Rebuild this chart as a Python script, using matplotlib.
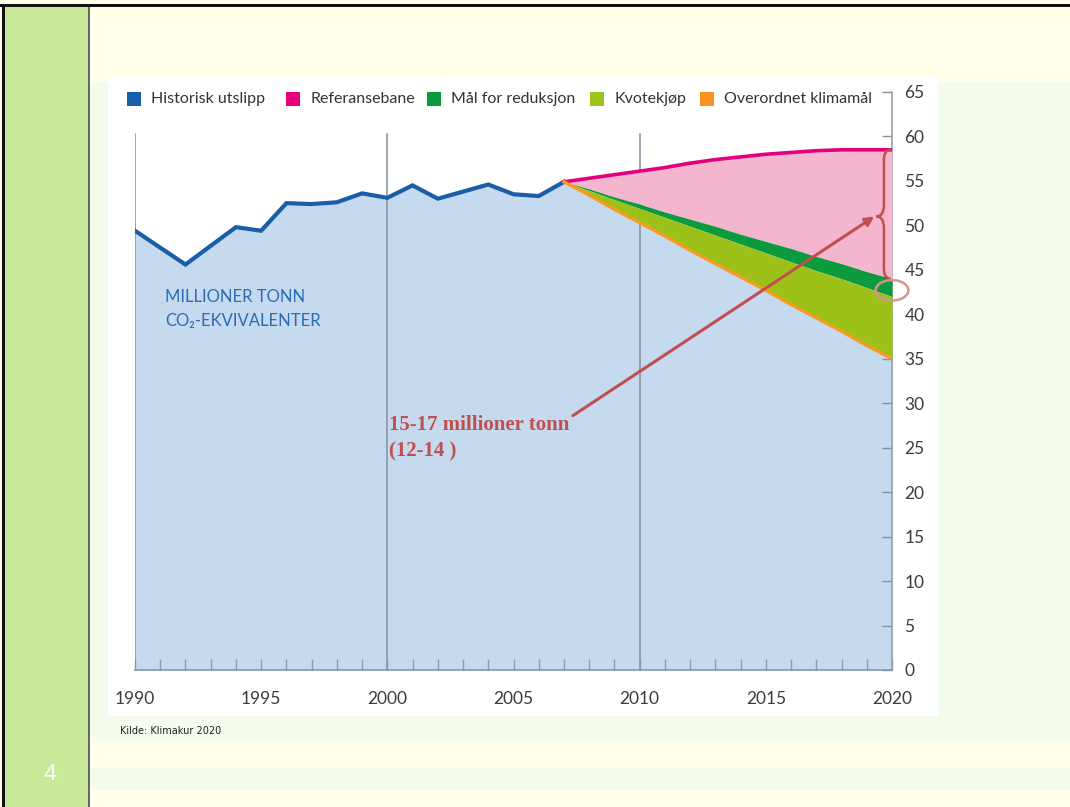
import matplotlib
matplotlib.use('Agg')
import matplotlib.pyplot as plt
from matplotlib.patches import Rectangle, Ellipse, PathPatch
from matplotlib.path import Path

# historical emissions, Mt CO2-equivalents
hist_years = list(range(1990, 2008))
hist_values = [49.4, 47.5, 45.6, 47.7, 49.8, 49.4, 52.5, 52.4, 52.6, 53.6,
               53.1, 54.5, 53.0, 53.8, 54.6, 53.5, 53.3, 54.9]

# projections 2007-2020
proj_years = list(range(2007, 2021))
reference = [54.9, 55.3, 55.7, 56.1, 56.5, 57.0, 57.4, 57.7, 58.0, 58.2,
             58.4, 58.5, 58.5, 58.5]
domestic_goal = [54.9, 54.1, 53.2, 52.4, 51.5, 50.7, 49.9, 49.0, 48.2, 47.4,
                 46.5, 45.7, 44.8, 44.0]
quota_top = [54.9, 53.9, 52.9, 51.9, 50.9, 49.9, 48.9, 47.9, 46.9, 45.9,
             44.9, 44.0, 43.0, 42.0]
overall_goal = [54.9, 53.4, 51.8, 50.3, 48.8, 47.2, 45.7, 44.2, 42.7, 41.1,
                39.6, 38.1, 36.5, 35.0]

legend_labels = ['Historisk utslipp', 'Referansebane', 'Mål for reduksjon',
                 'Kvotekjøp', 'Overordnet klimamål']
legend_colors = ['#1760aa', '#e5007d', '#079b3d', '#9dc41b', '#f7941d']
legend_x = [127, 286, 427, 590, 700]

W, H = 1070, 807
fig = plt.figure(figsize=(W / 100, H / 100), dpi=100)
fig.patch.set_facecolor('#ffffea')


def rect(x0, y0, x1, y1, color, z=0):
    # rectangle given in pixel coords (top-left origin)
    r = Rectangle((x0 / W, 1 - y1 / H), (x1 - x0) / W, (y1 - y0) / H,
                  transform=fig.transFigure, facecolor=color, edgecolor='none',
                  zorder=z)
    fig.add_artist(r)


# slide background
rect(90, 82, W, 743, '#f4fcee', -5)
rect(90, 768, W, 790, '#f4fcee', -5)
rect(5, 6, 88, H, '#c8e89a', -4)
rect(88, 6, 90, H, '#666666', -3)
rect(0, 4, W, 6.5, '#111111', -3)
rect(2, 4, 4.5, H, '#111111', -3)
rect(108, 76, 938, 716, 'white', -4)
fig.text(50 / W, 1 - 775 / H, '4', color='white', fontsize=16,
         ha='center', va='center', family='Open Sans')
fig.text(120 / W, 1 - 731 / H, 'Kilde: Klimakur 2020', color='#222222',
         fontsize=7, ha='left', va='center', family='DejaVu Sans')

# legend row
for x, lab, col in zip(legend_x, legend_labels, legend_colors):
    rect(x, 92, x + 14, 106, col, 2)
    fig.text((x + 24) / W, 1 - 99 / H, lab, color='#333333', fontsize=11.5,
             ha='left', va='center', family='Lato')

ax = fig.add_axes([135 / W, 1 - 670 / H, (892 - 135) / W, (670 - 92) / H])
ax.set_facecolor('none')
ax.set_xlim(1990, 2020)
ax.set_ylim(0, 65)

# one continuous fill under history + overall goal
base_x = hist_years + proj_years[1:]
base_y = hist_values + overall_goal[1:]
ax.fill_between(base_x, 0, base_y, color='#c5d9ef', lw=0, zorder=1)

for yr in (1990, 2000, 2010):
    ax.plot([yr, yr], [0, 60.3], color='#8c96a3', lw=1.2, zorder=2)

ax.fill_between(proj_years, domestic_goal, reference, color='#f4b6cf', lw=0, zorder=3)
ax.fill_between(proj_years, quota_top, domestic_goal, color='#0c9a3e', lw=0, zorder=3)
ax.fill_between(proj_years, overall_goal, quota_top, color='#9cc21a', lw=0, zorder=3)

ax.plot(hist_years, hist_values, color='#1a5ea8', lw=3, solid_joinstyle='miter', zorder=5)
ax.plot(proj_years, reference, color='#e4007c', lw=2.6, zorder=5)
ax.plot(proj_years, overall_goal, color='#f39c1f', lw=2.4, zorder=5)

# axes frame: bottom + right only
for side in ('top', 'left'):
    ax.spines[side].set_visible(False)
ax.spines['bottom'].set_color('#8899aa')
ax.spines['right'].set_color('#9aa0a8')
ax.spines['bottom'].set_linewidth(1.2)
ax.spines['right'].set_linewidth(1.2)

ax.yaxis.tick_right()
ax.set_yticks(range(0, 66, 5))
ax.tick_params(axis='y', direction='in', length=7, width=1, color='#8a9098',
               pad=9, labelsize=12.5, labelcolor='#3c3c3c')
ax.set_xticks(range(1990, 2021, 5))
ax.set_xticks(range(1990, 2021), minor=True)
ax.tick_params(axis='x', which='both', direction='in', length=8, width=1,
               color='#8a9ab0', pad=15, labelsize=12.5, labelcolor='#3c3c3c')
for lab in ax.get_xticklabels() + ax.get_yticklabels():
    lab.set_family('Lato')

ax.text(1991.2, 42.0, 'MILLIONER TONN', color='#2a6db5', fontsize=12,
        family=['Lato', 'DejaVu Sans'], va='center')
ax.text(1991.2, 39.3, 'CO₂-EKVIVALENTER', color='#2a6db5', fontsize=12,
        family=['Lato', 'DejaVu Sans'], va='center')

# annotation
note_color = '#c0504d'
ax.text(2000.05, 27.6, '15-17 millioner tonn', color=note_color, fontsize=15,
        fontweight='bold', family='Liberation Serif', va='center')
ax.text(2000.05, 24.6, '(12-14 )', color=note_color, fontsize=15,
        fontweight='bold', family='Liberation Serif', va='center')
ax.annotate('', xy=(2019.3, 51.0), xytext=(2007.35, 28.6),
            arrowprops=dict(arrowstyle='-|>', color=note_color, lw=2.2,
                            mutation_scale=13, shrinkA=0, shrinkB=0),
            zorder=6)

# curly brace between reference and domestic goal at 2020
bx, bm, bt = 2019.68, 2019.38, 2019.95
verts = [(bt, 58.5), (bx, 58.5), (bx, 57.4),
         (bx, 52.3),
         (bx, 51.0), (bm, 51.0),
         (bx, 51.0), (bx, 49.7),
         (bx, 45.1),
         (bx, 44.0), (bt, 44.0)]
codes = [Path.MOVETO, Path.CURVE3, Path.CURVE3,
         Path.LINETO,
         Path.CURVE3, Path.CURVE3,
         Path.CURVE3, Path.CURVE3,
         Path.LINETO,
         Path.CURVE3, Path.CURVE3]
brace = PathPatch(Path(verts, codes), facecolor='none', edgecolor=note_color,
                  lw=1.8, zorder=6, clip_on=False)
ax.add_patch(brace)

ax.add_patch(Ellipse((2020.0, 42.7), 1.3, 2.3, facecolor='none',
                     edgecolor='#d9928f', lw=1.8, zorder=6, clip_on=False))

fig.savefig('out.png', dpi=100, facecolor=fig.get_facecolor())
